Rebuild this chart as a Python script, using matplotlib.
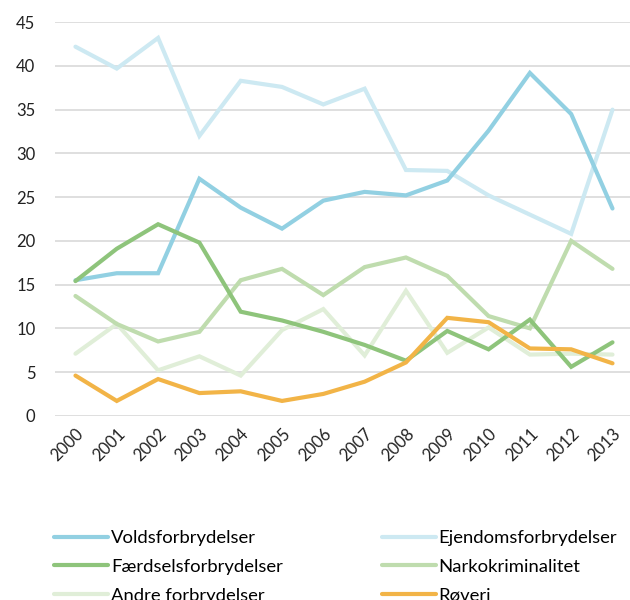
import matplotlib
matplotlib.use("Agg")
import matplotlib.pyplot as plt

plt.rcParams['font.family'] = ['Lato', 'DejaVu Sans']

years = [str(y) for y in range(2000, 2014)]

volds = [15.5, 16.3, 16.3, 27.1, 23.8, 21.4, 24.6, 25.6, 25.2, 26.9, 32.6, 39.2, 34.5, 23.7]
ejendoms = [42.2, 39.7, 43.2, 32.0, 38.3, 37.6, 35.6, 37.4, 28.1, 28.0, 25.2, 23.0, 20.8, 35.0]
faerdsel = [15.4, 19.1, 21.9, 19.8, 11.9, 10.9, 9.6, 8.1, 6.3, 9.7, 7.6, 11.0, 5.6, 8.4]
narko = [13.7, 10.5, 8.5, 9.6, 15.5, 16.8, 13.8, 17.0, 18.1, 16.0, 11.4, 10.0, 20.0, 16.8]
andre = [7.1, 10.5, 5.2, 6.8, 4.6, 9.8, 12.2, 6.9, 14.3, 7.2, 10.1, 7.0, 7.1, 7.0]
roeveri = [4.6, 1.7, 4.2, 2.6, 2.8, 1.7, 2.5, 3.9, 6.1, 11.2, 10.7, 7.7, 7.6, 6.0]

series = [
    ("Voldsforbrydelser", volds, "#92d0e2"),
    ("Ejendomsforbrydelser", ejendoms, "#cde9f2"),
    ("Færdselsforbrydelser", faerdsel, "#8ec47b"),
    ("Narkokriminalitet", narko, "#bfdcae"),
    ("Andre forbrydelser", andre, "#e0eed8"),
    ("Røveri", roeveri, "#f2b447"),
]

fig = plt.figure(figsize=(6.3, 6.0), dpi=100)
ax = fig.add_axes([0.087, 0.307, 0.918, 0.656])

x = range(len(years))
handles = {}
# draw lighter series behind
order = ["Ejendomsforbrydelser", "Andre forbrydelser", "Narkokriminalitet",
         "Voldsforbrydelser", "Færdselsforbrydelser", "Røveri"]
lookup = {name: (vals, col) for name, vals, col in series}
for z, name in enumerate(order):
    vals, col = lookup[name]
    ln, = ax.plot(x, vals, color=col, lw=3, solid_capstyle='round',
                  solid_joinstyle='miter', zorder=3 + z, label=name)
    handles[name] = ln

ax.set_xlim(-0.5, len(years) - 0.5)
ax.set_ylim(0, 45)
ax.set_yticks(range(0, 46, 5))
ax.set_xticks(list(x))
ax.set_xticklabels(years, rotation=45, ha='right', rotation_mode='anchor')
ax.tick_params(axis='both', length=0, labelsize=12, colors='#222222')
ax.tick_params(axis='x', pad=7)
ax.tick_params(axis='y', pad=14)
ax.grid(axis='y', color='#d9d9d9', lw=1.2)
ax.set_axisbelow(True)
for s in ax.spines.values():
    s.set_visible(False)

# legend, column-major order
leg_order = ["Voldsforbrydelser", "Færdselsforbrydelser", "Andre forbrydelser",
             "Ejendomsforbrydelser", "Narkokriminalitet", "Røveri"]
fig.legend([handles[n] for n in leg_order], leg_order, ncol=2,
           loc='upper left', bbox_to_anchor=(0.086, 0.116), frameon=False,
           fontsize=13.3, handlelength=2.92, handletextpad=0.16,
           columnspacing=5.35, labelspacing=0.68, borderaxespad=0, borderpad=0)

fig.savefig("out.png", dpi=100)
